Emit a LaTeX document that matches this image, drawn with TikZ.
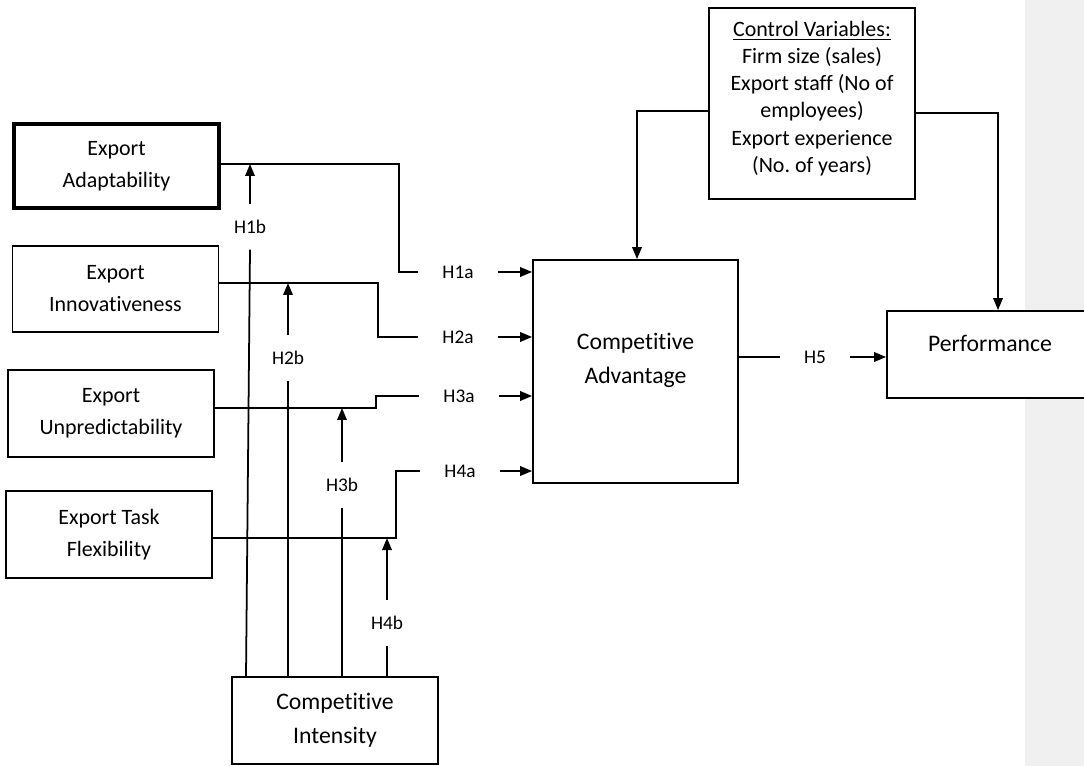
\documentclass[tikz,border=0pt]{standalone}
\usepackage{fontspec}
\setmainfont{Carlito}[Ligatures=NoCommon]
\usetikzlibrary{positioning}
\usetikzlibrary{arrows.meta}
\frenchspacing

\begin{document}
\begin{tikzpicture}[x=0.02cm, y=-0.02cm, line width=1pt,
		>={Triangle[length=0.24cm, width=0.19cm]},
		varbox/.style={draw, fill=white, minimum width=4.12cm, minimum height=1.73cm,
			align=center, font=\fontsize{12.5}{18.2}\selectfont},
		bigbox/.style={draw, fill=white, align=center, font=\fontsize{13.5}{19.3}\selectfont},
		hyp/.style={inner xsep=0.47cm, inner ysep=0.3cm, font=\fontsize{11}{13}\selectfont}
	]
	
	\useasboundingbox (0,0) rectangle (1084,766);
	\clip (0,0) rectangle (1084,766);
	\fill[black!6] (1025,0) rectangle (1084,766);
	
	%independent variables
	\node[varbox, line width=2.2pt, minimum width=4.1cm, minimum height=1.68cm] (adapt) at (116.5,166) {Export\\Adaptability};
	\node[varbox] (innov) at (115.5,289) {Export\\Innovativeness};
	\node[varbox] (unpred) at (111,413.5) {Export\\Unpredictability};
	\node[varbox] (flex) at (109,534.5) {Export Task\\Flexibility};
	
	%moderator
	\node[bigbox, minimum width=4.12cm, minimum height=1.74cm] (cint) at (335,720.5) {Competitive\\Intensity};
	
	%mediator and outcome
	\node[bigbox, minimum width=4.1cm, minimum height=4.46cm,
		label={[align=center, anchor=center, yshift=0.23cm, font=\fontsize{13.5}{19.3}\selectfont]center:Competitive\\Advantage}] (cadv) at (635.5,371.5) {};
	\node[bigbox, minimum width=4.12cm, minimum height=1.74cm,
		label={[anchor=center, yshift=0.23cm, font=\fontsize{13.5}{19.3}\selectfont]center:Performance}] (perf) at (990,354.5) {};
	
	%controls
	\node[draw, fill=white, minimum width=4.12cm, minimum height=3.82cm, align=center,
		font=\fontsize{12.5}{15.5}\selectfont,
		label={[align=center, anchor=center, yshift=0.1cm, font=\fontsize{12.5}{15.5}\selectfont]center:\underline{Control Variables:}\\Firm size (sales)\\Export staff (No of\\employees)\\Export experience\\(No. of years)}] (ctrl) at (812,103.5) {};
	
	%hypothesis labels
	\node[hyp] (h1a) at (458,272) {H1a};
	\node[hyp] (h2a) at (458,337) {H2a};
	\node[hyp] (h3a) at (459,396) {H3a};
	\node[hyp] (h4a) at (460,471) {H4a};
	\node[hyp] (h5) at (815,357) {H5};
	\node[hyp] (h1b) at (250,227) {H1b};
	\node[hyp] (h2b) at (288,358) {H2b};
	\node[hyp] (h3b) at (342,485) {H3b};
	\node[hyp] (h4b) at (387,623) {H4b};
	
	\coordinate (s1) at (adapt.east |- 0,164);
	\coordinate (s2) at (innov.east |- 0,283);
	\coordinate (s3) at (unpred.east |- 0,408);
	\coordinate (s4) at (flex.east |- 0,538);
	
	%direct effects
	\draw (s1) -- (s1 -| 399,0) |- (h1a.west);
	\draw (s2) -- (s2 -| 378,0) |- (h2a.west);
	\draw (s3) -- (s3 -| 376,0) |- (h3a.west);
	\draw (s4) -- (s4 -| 396,0) |- (h4a.west);
	\draw[->] (h1a.east) -- (cadv.west |- h1a);
	\draw[->] (h2a.east) -- (cadv.west |- h2a);
	\draw[->] (h3a.east) -- (cadv.west |- h3a);
	\draw[->] (h4a.east) -- (cadv.west |- h4a);
	\draw (cadv.east |- h5) -- (h5.west);
	\draw[->] (h5.east) -- (perf.west |- h5);
	
	%moderating effects
	\draw (cint.north -| 246,0) -- (h1b.south);
	\draw (cint.north -| h2b) -- (h2b.south);
	\draw (cint.north -| h3b) -- (h3b.south);
	\draw (cint.north -| h4b) -- (h4b.south);
	\draw[->] (h1b.north) -- (h1b |- s1);
	\draw[->] (h2b.north) -- (h2b |- s2);
	\draw[->] (h3b.north) -- (h3b |- s3);
	\draw[->] (h4b.north) -- (h4b |- s4);
	
	% control paths
	\draw[->] (ctrl.west |- 0,111) -| (cadv.north -| 637,0);
	\draw[->] (ctrl.east |- 0,113) -| (perf.north -| 998,0);
\end{tikzpicture}
\end{document}
